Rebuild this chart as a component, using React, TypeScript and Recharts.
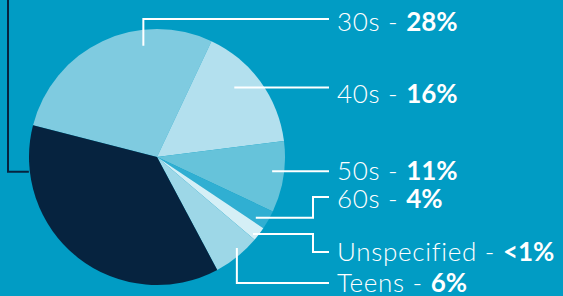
import { PieChart, Pie, Cell } from "recharts";

// age groups, clockwise from the 30s slice
const groups = ["30s", "40s", "50s", "60s", "Unspecified", "Teens", "20s"];
const shares = [28, 16, 9, 2.4, 1.8, 6, 36.8];
const shareLabels = ["28%", "16%", "11%", "4%", "<1%", "6%", ""];

const COLORS = ["#7fcbe0", "#b3e0ee", "#66c3da", "#30afd2", "#d5eff6", "#9dd7e7", "#06233f"];

// leader line layout: anchor in polar coords around the pie centre
const LEADERS = [
  { angle: 97, r: 112, elbowX: null, lineY: 19, endX: 329, textY: 31 },
  { angle: 42, r: 104, elbowX: null, lineY: null, endX: 329, textY: 103 },
  { angle: -7, r: 116, elbowX: null, lineY: null, endX: 329, textY: 180 },
  { angle: -31.6, r: 116, elbowX: 313, lineY: 197, endX: 329, textY: 208 },
  { angle: -38.7, r: 123, elbowX: 313, lineY: 252, endX: 329, textY: 261 },
  { angle: -48.7, r: 121, elbowX: null, lineY: 283, endX: 329, textY: 292 },
  { angle: 186.6, r: 129, elbowX: 8, lineY: 0, endX: 8, textY: 0 },
];

const data = groups.map((name, i) => ({ name, value: shares[i], pct: shareLabels[i] }));

const RAD = Math.PI / 180;

function renderLabel(props: any) {
  const { cx, cy, index } = props;
  const l = LEADERS[index];
  const ax = cx + l.r * Math.cos(l.angle * RAD);
  const ay = cy - l.r * Math.sin(l.angle * RAD);
  const ex = l.elbowX ?? ax;
  const ly = l.lineY ?? ay;
  const d = `M${ax},${ay} H${ex} V${ly} H${l.endX}`;
  const isDark = index === groups.length - 1;
  return (
    <g key={`lbl-${index}`}>
      <path d={d} fill="none" stroke={isDark ? "#06233f" : "#ffffff"} strokeWidth={2} />
      {!isDark && (
        <text x={337} y={l.textY} fill="#ffffff" fontSize={26} fontFamily="Lato, sans-serif">
          <tspan fontWeight={300} letterSpacing={0.7}>{groups[index]} - </tspan>
          <tspan fontWeight={700}>{shareLabels[index]}</tspan>
        </text>
      )}
    </g>
  );
}

export default function App() {
  return (
    <div style={{ position: "fixed", left: 0, top: 0, width: 563, height: 296, background: "#019cc4" }}>
      <PieChart width={563} height={296} margin={{ top: 0, right: 0, bottom: 0, left: 0 }}>
        <Pie
          data={data}
          dataKey="value"
          cx={157}
          cy={157}
          outerRadius={128}
          startAngle={165.6}
          endAngle={-194.4}
          stroke="none"
          label={renderLabel}
          labelLine={false}
          isAnimationActive={false}
        >
          {data.map((entry, index) => (
            <Cell key={`cell-${index}`} fill={COLORS[index]} />
          ))}
        </Pie>
      </PieChart>
    </div>
  );
}
